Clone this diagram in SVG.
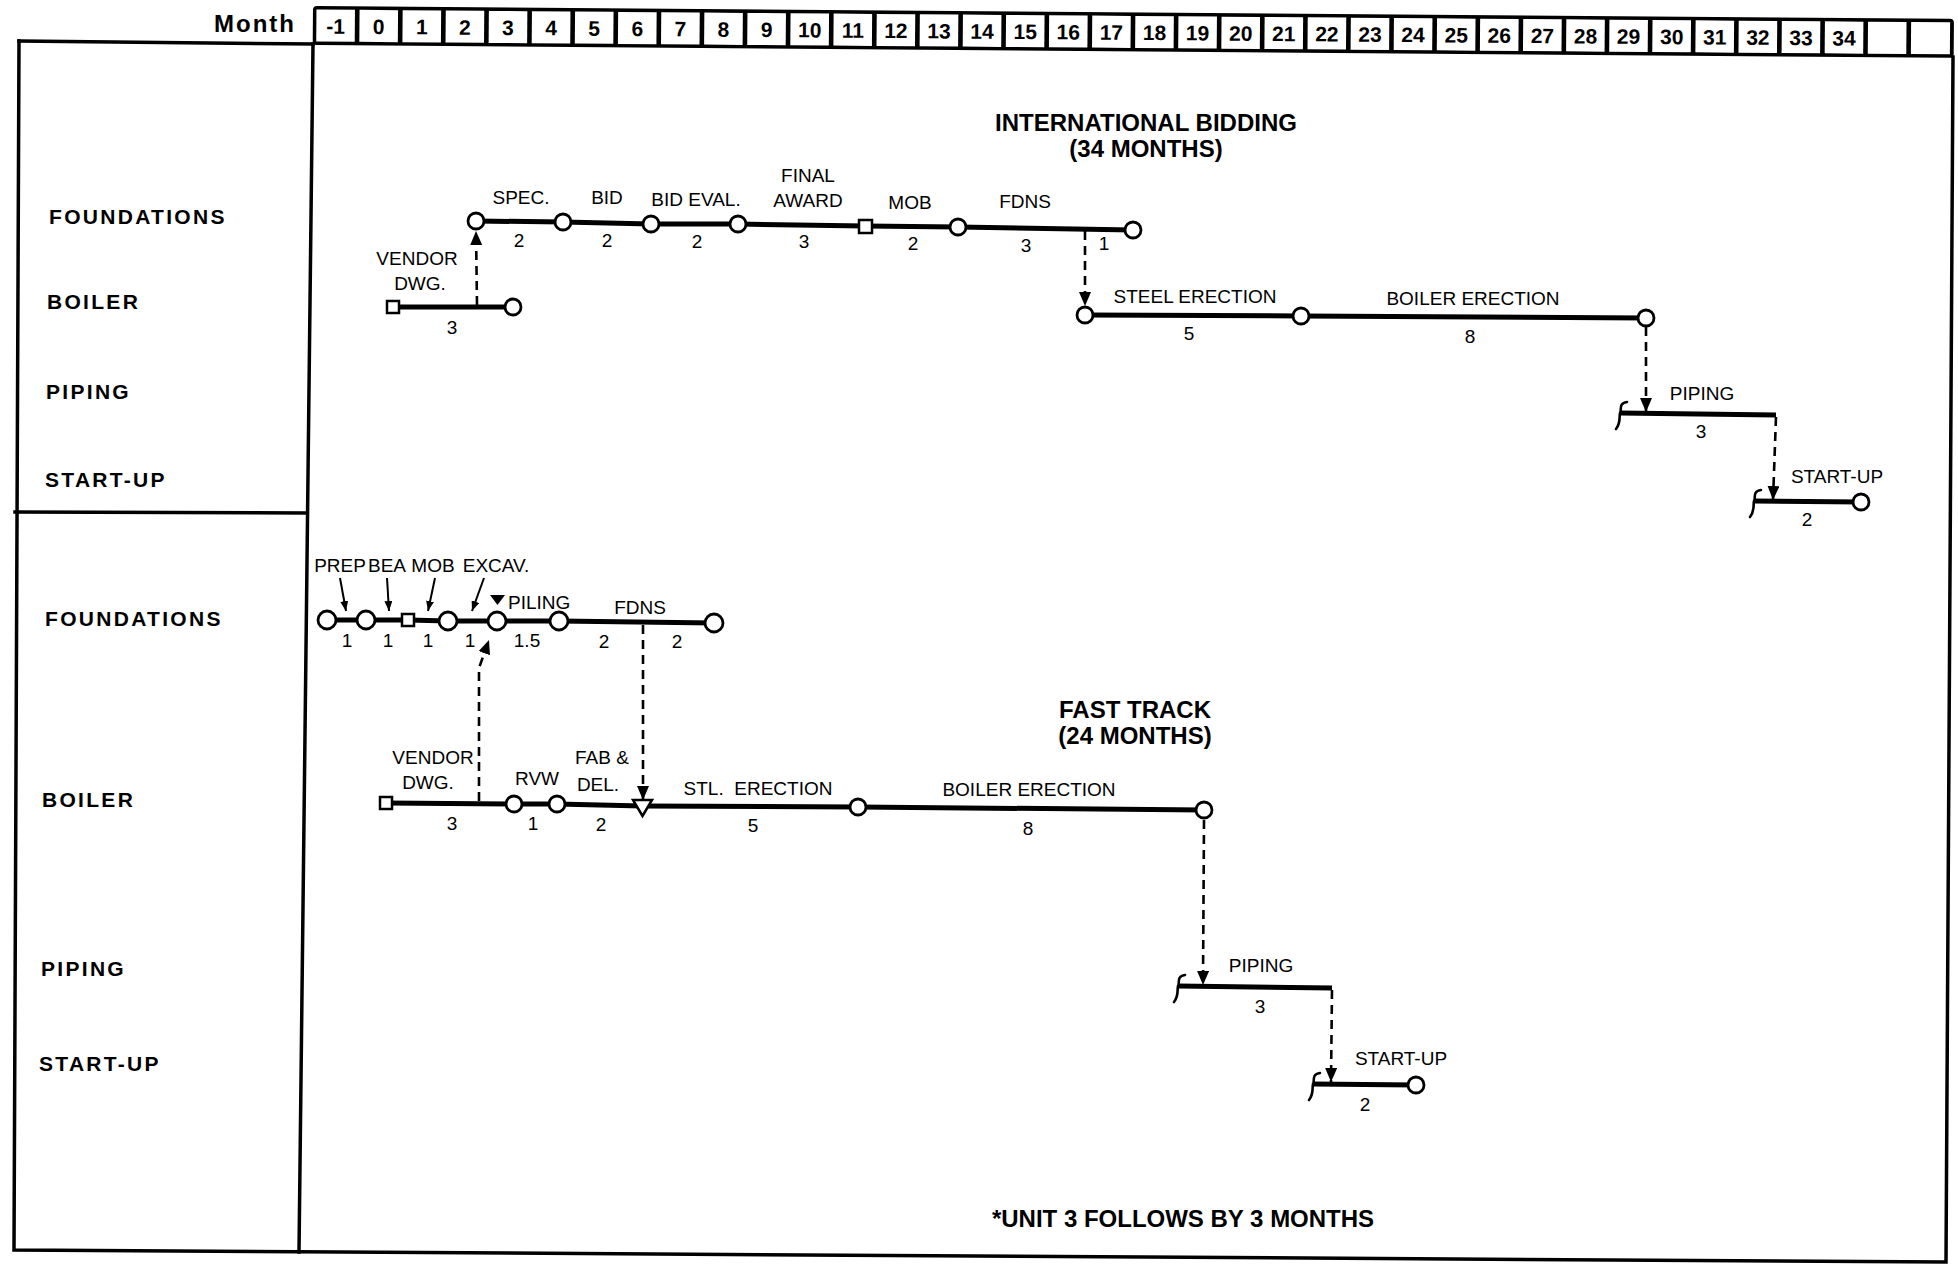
<svg xmlns="http://www.w3.org/2000/svg" width="1958" height="1267" viewBox="0 0 1958 1267">
<style>
.frame{fill:none;stroke:#000;stroke-width:3.5;stroke-linecap:square}
.act{fill:none;stroke:#000;stroke-width:5;stroke-linejoin:round}
.dash{fill:none;stroke:#000;stroke-width:2.6;stroke-dasharray:9 6}
.thin{fill:none;stroke:#000;stroke-width:2}
.ev{fill:#fff;stroke:#000;stroke-width:2.8}
.sq{fill:#fff;stroke:#000;stroke-width:2.5}
.brace{fill:none;stroke:#000;stroke-width:2.6;stroke-linecap:round}
.lbl{font-family:"Liberation Sans",Arial,sans-serif;font-size:19px;fill:#000;text-anchor:middle}
.row{font-family:"Liberation Sans",Arial,sans-serif;font-size:21px;font-weight:bold;letter-spacing:2.3px;fill:#000}
.ttl{font-family:"Liberation Sans",Arial,sans-serif;font-size:24px;font-weight:bold;fill:#000;text-anchor:middle}
.hd{font-family:"Liberation Sans",Arial,sans-serif;font-size:21px;font-weight:bold;fill:#000;text-anchor:middle}
</style>
<defs>
<marker id="ah" markerUnits="userSpaceOnUse" viewBox="0 0 14 12" refX="14" refY="6" markerWidth="14" markerHeight="12" orient="auto">
<path d="M0,0 L14,6 L0,12 z" fill="#000"/>
</marker>
<marker id="ahs" markerUnits="userSpaceOnUse" viewBox="0 0 10 8" refX="10" refY="4" markerWidth="10" markerHeight="8" orient="auto">
<path d="M0,0 L10,4 L0,8 z" fill="#000"/>
</marker>
</defs>

<g id="header" transform="rotate(0.45 313 6)">
<rect x="313" y="6" width="1641" height="39" rx="4" fill="#000"/>
<g fill="#fff">
<rect x="316.5" y="9.5" width="38.5" height="32"/><rect x="359.6" y="9.5" width="38.5" height="32"/><rect x="402.7" y="9.5" width="38.5" height="32"/><rect x="445.8" y="9.5" width="38.5" height="32"/><rect x="488.9" y="9.5" width="38.5" height="32"/><rect x="532.0" y="9.5" width="38.5" height="32"/><rect x="575.1" y="9.5" width="38.5" height="32"/><rect x="618.2" y="9.5" width="38.5" height="32"/><rect x="661.3" y="9.5" width="38.5" height="32"/><rect x="704.4" y="9.5" width="38.5" height="32"/><rect x="747.5" y="9.5" width="38.5" height="32"/><rect x="790.6" y="9.5" width="38.5" height="32"/><rect x="833.7" y="9.5" width="38.5" height="32"/><rect x="876.8" y="9.5" width="38.5" height="32"/><rect x="919.9" y="9.5" width="38.5" height="32"/><rect x="963.0" y="9.5" width="38.5" height="32"/><rect x="1006.1" y="9.5" width="38.5" height="32"/><rect x="1049.2" y="9.5" width="38.5" height="32"/><rect x="1092.3" y="9.5" width="38.5" height="32"/><rect x="1135.4" y="9.5" width="38.5" height="32"/><rect x="1178.5" y="9.5" width="38.5" height="32"/><rect x="1221.6" y="9.5" width="38.5" height="32"/><rect x="1264.7" y="9.5" width="38.5" height="32"/><rect x="1307.8" y="9.5" width="38.5" height="32"/><rect x="1350.9" y="9.5" width="38.5" height="32"/><rect x="1394.0" y="9.5" width="38.5" height="32"/><rect x="1437.1" y="9.5" width="38.5" height="32"/><rect x="1480.2" y="9.5" width="38.5" height="32"/><rect x="1523.3" y="9.5" width="38.5" height="32"/><rect x="1566.4" y="9.5" width="38.5" height="32"/><rect x="1609.5" y="9.5" width="38.5" height="32"/><rect x="1652.6" y="9.5" width="38.5" height="32"/><rect x="1695.7" y="9.5" width="38.5" height="32"/><rect x="1738.8" y="9.5" width="38.5" height="32"/><rect x="1781.9" y="9.5" width="38.5" height="32"/><rect x="1825.0" y="9.5" width="38.5" height="32"/><rect x="1868.1" y="9.5" width="38.5" height="32"/><rect x="1911.2" y="9.5" width="39" height="32"/>
</g>
<g class="hd">
<text x="335.8" y="33.5">-1</text><text x="378.9" y="33.5">0</text><text x="422" y="33.5">1</text><text x="465.1" y="33.5">2</text><text x="508.2" y="33.5">3</text><text x="551.3" y="33.5">4</text><text x="594.4" y="33.5">5</text><text x="637.5" y="33.5">6</text><text x="680.6" y="33.5">7</text><text x="723.7" y="33.5">8</text><text x="766.8" y="33.5">9</text><text x="809.9" y="33.5">10</text><text x="853" y="33.5">11</text><text x="896.1" y="33.5">12</text><text x="939.2" y="33.5">13</text><text x="982.3" y="33.5">14</text><text x="1025.4" y="33.5">15</text><text x="1068.5" y="33.5">16</text><text x="1111.6" y="33.5">17</text><text x="1154.7" y="33.5">18</text><text x="1197.8" y="33.5">19</text><text x="1240.9" y="33.5">20</text><text x="1284" y="33.5">21</text><text x="1327.1" y="33.5">22</text><text x="1370.2" y="33.5">23</text><text x="1413.3" y="33.5">24</text><text x="1456.4" y="33.5">25</text><text x="1499.5" y="33.5">26</text><text x="1542.6" y="33.5">27</text><text x="1585.7" y="33.5">28</text><text x="1628.8" y="33.5">29</text><text x="1671.9" y="33.5">30</text><text x="1715" y="33.5">31</text><text x="1758.1" y="33.5">32</text><text x="1801.2" y="33.5">33</text><text x="1844.3" y="33.5">34</text>
</g>
</g>
<text x="296" y="32" font-family="Liberation Sans, Arial, sans-serif" font-size="24" font-weight="bold" text-anchor="end" letter-spacing="2">Month</text>

<g id="frame">
<path class="frame" d="M19,41 L313,44"/>
<path class="frame" d="M19,41 L14,1250 L1946,1262 L1953,57"/>
<path class="frame" d="M313,44 L299,1252"/>
<path class="frame" d="M15,512 L306,513"/>
</g>

<g id="row-labels" class="row">
<text x="49" y="224">FOUNDATIONS</text>
<text x="47" y="309">BOILER</text>
<text x="46" y="399">PIPING</text>
<text x="45" y="487">START-UP</text>
<text x="45" y="626">FOUNDATIONS</text>
<text x="42" y="807">BOILER</text>
<text x="41" y="976">PIPING</text>
<text x="39" y="1071">START-UP</text>
</g>

<g id="titles" class="ttl">
<text x="1146" y="131">INTERNATIONAL BIDDING</text>
<text x="1146" y="157">(34 MONTHS)</text>
<text x="1135" y="718">FAST TRACK</text>
<text x="1135" y="744">(24 MONTHS)</text>
<text x="1183" y="1227">*UNIT 3 FOLLOWS BY 3 MONTHS</text>
</g>

<g id="connectors">
<polyline class="act" points="476,221 563,222 651,224 738,224 865,226 958,227 1133,230"/>
<line class="act" x1="393" y1="307" x2="513" y2="307"/>
<polyline class="act" points="1085,315 1301,316 1646,318"/>
<line class="act" x1="1620" y1="413" x2="1776" y2="415"/>
<line class="act" x1="1754" y1="501" x2="1861" y2="502"/>
<line class="dash" x1="477" y1="305" x2="476" y2="231" marker-end="url(#ah)"/>
<line class="dash" x1="1085" y1="231" x2="1085" y2="306" marker-end="url(#ah)"/>
<line class="dash" x1="1646" y1="327" x2="1646" y2="412" marker-end="url(#ah)"/>
<line class="dash" x1="1776" y1="417" x2="1773" y2="500" marker-end="url(#ah)"/>

<polyline class="act" points="327,620 366,620 408,620 448,621 497,621 559,621 714,623"/>
<polyline class="act" points="386,803 514,804 557,804 642,806 858,807 1204,810"/>
<line class="act" x1="1178" y1="986" x2="1332" y2="988"/>
<line class="act" x1="1313" y1="1084" x2="1416" y2="1085"/>
<polyline class="dash" points="479,801 479,668 489,640" marker-end="url(#ah)"/>
<line class="dash" x1="643" y1="625" x2="643" y2="800" marker-end="url(#ah)"/>
<line class="dash" x1="1204" y1="820" x2="1203" y2="985" marker-end="url(#ah)"/>
<line class="dash" x1="1332" y1="990" x2="1331" y2="1082" marker-end="url(#ah)"/>
<line class="thin" x1="340" y1="578" x2="346" y2="611" marker-end="url(#ahs)"/>
<line class="thin" x1="387" y1="578" x2="389" y2="611" marker-end="url(#ahs)"/>
<line class="thin" x1="435" y1="578" x2="428" y2="611" marker-end="url(#ahs)"/>
<line class="thin" x1="484" y1="578" x2="472" y2="611" marker-end="url(#ahs)"/>
</g>

<g id="nodes-intl">
<circle id="n-spec" class="ev" cx="476" cy="221" r="8"/>
<circle id="n-bid" class="ev" cx="563" cy="222" r="8"/>
<circle id="n-bideval" class="ev" cx="651" cy="224" r="8"/>
<circle id="n-award" class="ev" cx="738" cy="224" r="8"/>
<rect id="n-mob" class="sq" x="859" y="220" width="13" height="13"/>
<circle id="n-fdns" class="ev" cx="958" cy="227" r="8"/>
<circle id="n-fdns-end" class="ev" cx="1133" cy="230" r="8"/>
<rect id="n-vendor" class="sq" x="387" y="301" width="12" height="12"/>
<circle id="n-vendor-end" class="ev" cx="513" cy="307" r="8"/>
<circle id="n-steel" class="ev" cx="1085" cy="315" r="8"/>
<circle id="n-boiler" class="ev" cx="1301" cy="316" r="8"/>
<circle id="n-boiler-end" class="ev" cx="1646" cy="318" r="8"/>
<path id="n-piping" class="brace" d="M1627,402 C1618,403 1622,411 1620,413 C1619,417 1621,423 1616,429"/>
<path id="n-startup" class="brace" d="M1761,490 C1752,491 1756,499 1754,501 C1753,505 1755,511 1750,517"/>
<circle id="n-startup-end" class="ev" cx="1861" cy="502" r="8"/>
</g>

<g id="nodes-fast">
<circle class="ev" cx="327" cy="620" r="9"/>
<circle class="ev" cx="366" cy="620" r="9"/>
<rect class="sq" x="402" y="614" width="12" height="12"/>
<circle class="ev" cx="448" cy="621" r="9"/>
<circle class="ev" cx="497" cy="621" r="9"/>
<circle class="ev" cx="559" cy="621" r="9"/>
<circle class="ev" cx="714" cy="623" r="9"/>
<polygon points="490,595 505,595 497.5,605" fill="#000"/>
<rect class="sq" x="380" y="797" width="12" height="12"/>
<circle class="ev" cx="514" cy="804" r="8"/>
<circle class="ev" cx="557" cy="804" r="8"/>
<polygon class="sq" points="633,800 652,800 642.5,816"/>
<circle class="ev" cx="858" cy="807" r="8"/>
<circle class="ev" cx="1204" cy="810" r="8"/>
<path class="brace" d="M1185,975 C1176,976 1180,984 1178,986 C1177,990 1179,996 1174,1002"/>
<path class="brace" d="M1320,1073 C1311,1074 1315,1082 1313,1084 C1312,1088 1314,1094 1309,1100"/>
<circle class="ev" cx="1416" cy="1085" r="8"/>
</g>

<g id="labels-intl" class="lbl">
<text x="521" y="204">SPEC.</text>
<text x="607" y="204">BID</text>
<text x="696" y="206">BID EVAL.</text>
<text x="808" y="182">FINAL</text>
<text x="808" y="207">AWARD</text>
<text x="910" y="209">MOB</text>
<text x="1025" y="208">FDNS</text>
<text x="519" y="247">2</text>
<text x="607" y="247">2</text>
<text x="697" y="248">2</text>
<text x="804" y="248">3</text>
<text x="913" y="250">2</text>
<text x="1026" y="252">3</text>
<text x="1104" y="250">1</text>
<text x="417" y="265">VENDOR</text>
<text x="420" y="290">DWG.</text>
<text x="452" y="334">3</text>
<text x="1195" y="303">STEEL ERECTION</text>
<text x="1473" y="305">BOILER ERECTION</text>
<text x="1189" y="340">5</text>
<text x="1470" y="343">8</text>
<text x="1702" y="400">PIPING</text>
<text x="1701" y="438">3</text>
<text x="1837" y="483">START-UP</text>
<text x="1807" y="526">2</text>
</g>

<g id="labels-fast" class="lbl">
<text x="340" y="572">PREP</text>
<text x="387" y="572">BEA</text>
<text x="433" y="572">MOB</text>
<text x="496" y="572">EXCAV.</text>
<text x="508" y="609" text-anchor="start">PILING</text>
<text x="640" y="614">FDNS</text>
<text x="347" y="647">1</text>
<text x="388" y="647">1</text>
<text x="428" y="647">1</text>
<text x="470" y="647">1</text>
<text x="527" y="647">1.5</text>
<text x="604" y="648">2</text>
<text x="677" y="648">2</text>
<text x="433" y="764">VENDOR</text>
<text x="428" y="789">DWG.</text>
<text x="452" y="830">3</text>
<text x="537" y="785">RVW</text>
<text x="533" y="830">1</text>
<text x="602" y="764">FAB &amp;</text>
<text x="598" y="791">DEL.</text>
<text x="601" y="831">2</text>
<text x="758" y="795" xml:space="preserve">STL.  ERECTION</text>
<text x="753" y="832">5</text>
<text x="1029" y="796">BOILER ERECTION</text>
<text x="1028" y="835">8</text>
<text x="1261" y="972">PIPING</text>
<text x="1260" y="1013">3</text>
<text x="1401" y="1065">START-UP</text>
<text x="1365" y="1111">2</text>
</g>
</svg>
